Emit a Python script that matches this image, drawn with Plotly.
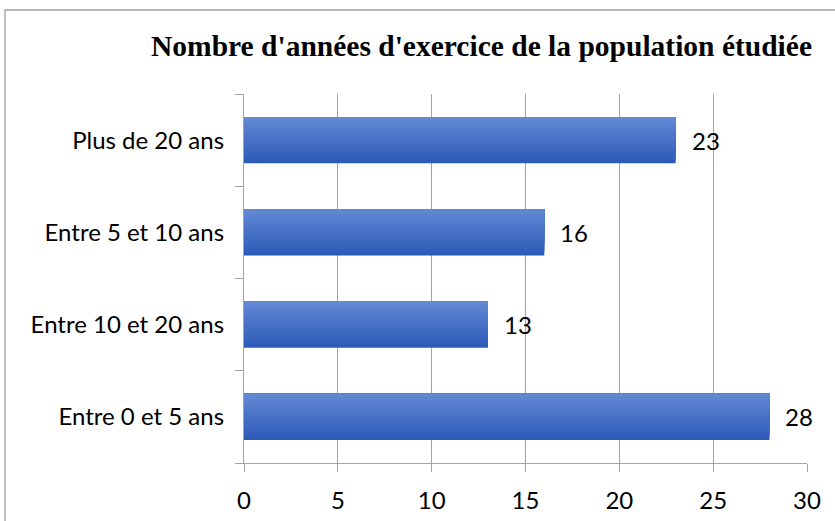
import plotly.graph_objects as go

# data, bottom category first (as in the source chart)
categories = ["Entre 0 et 5 ans", "Entre 10 et 20 ans", "Entre 5 et 10 ans", "Plus de 20 ans"]
values = [28, 13, 16, 23]
x_ticks = [0, 5, 10, 15, 20, 25, 30]

TITLE = "Nombre d'années d'exercice de la population étudiée"
GRID = "#A3A3A3"
FONT = "Lato"
FS = 24

def mix(c1, c2, t):
    return "rgb(%d,%d,%d)" % tuple(round(a + (b - a) * t) for a, b in zip(c1, c2))

fig = go.Figure()

# vertical gradient: each slice runs from its offset up to the top of the bar,
# lighter slices drawn later on top, so there are no seams
n = 16
bottom_col, top_col = (45, 91, 184), (98, 136, 212)
bar_w = 0.5
for i in range(n):
    fig.add_trace(go.Bar(
        y=categories, x=values, orientation="h",
        width=bar_w - i * bar_w / n, offset=-bar_w / 2 + i * bar_w / n,
        marker=dict(color=mix(bottom_col, top_col, i / (n - 1)), line_width=0),
        hoverinfo="skip" if i else "x+y", showlegend=False,
    ))

for cat, v in zip(categories, values):
    fig.add_annotation(x=v, y=cat, text=str(v), showarrow=False, xanchor="left",
                       xshift=14, font=dict(family=FONT, size=FS, color="#000"))

fig.add_annotation(text=TITLE, xref="paper", yref="paper", x=(481 - 244) / 563, y=(463 - 46) / 369,
                   showarrow=False, xanchor="center", yanchor="middle",
                   font=dict(family="Liberation Serif", size=29.5, color="#000", weight="bold"))

# chart-area border (cut by the picture on the right and bottom)
fig.add_shape(type="rect", xref="paper", yref="paper",
              x0=(5 - 244) / 563, x1=1.2, y0=-0.5, y1=(463 - 10) / 369,
              line=dict(color="#A0A0A0", width=1.3), fillcolor="rgba(0,0,0,0)", layer="below")

fig.update_layout(
    width=835, height=521, barmode="overlay", bargap=0.5,
    margin=dict(l=244, r=28, t=94, b=58),
    paper_bgcolor="white", plot_bgcolor="white",
    font=dict(family=FONT, size=FS, color="#000"),
    xaxis=dict(range=[0, 30], tickvals=x_ticks, showgrid=True, gridcolor=GRID, gridwidth=1.3,
               showline=True, linecolor=GRID, linewidth=1.3, ticks="outside", ticklen=8,
               tickcolor=GRID, tickwidth=1.3, ticklabelstandoff=8, zeroline=False,
               automargin=False, tickfont=dict(family=FONT, size=FS)),
    yaxis=dict(type="category", categoryorder="array", categoryarray=categories,
               range=[-0.5, 3.5], showline=True, linecolor=GRID, linewidth=1.3,
               ticks="outside", tickson="boundaries", ticklen=8, tickcolor=GRID, tickwidth=1.3,
               ticklabelstandoff=14, showgrid=False, automargin=False,
               tickfont=dict(family=FONT, size=FS)),
)

# drop the browser's default 8px body margin so the figure sits at the page corner
fig.write_html("out.html", config={"displayModeBar": False},
               post_script="document.body.style.margin='0';")
